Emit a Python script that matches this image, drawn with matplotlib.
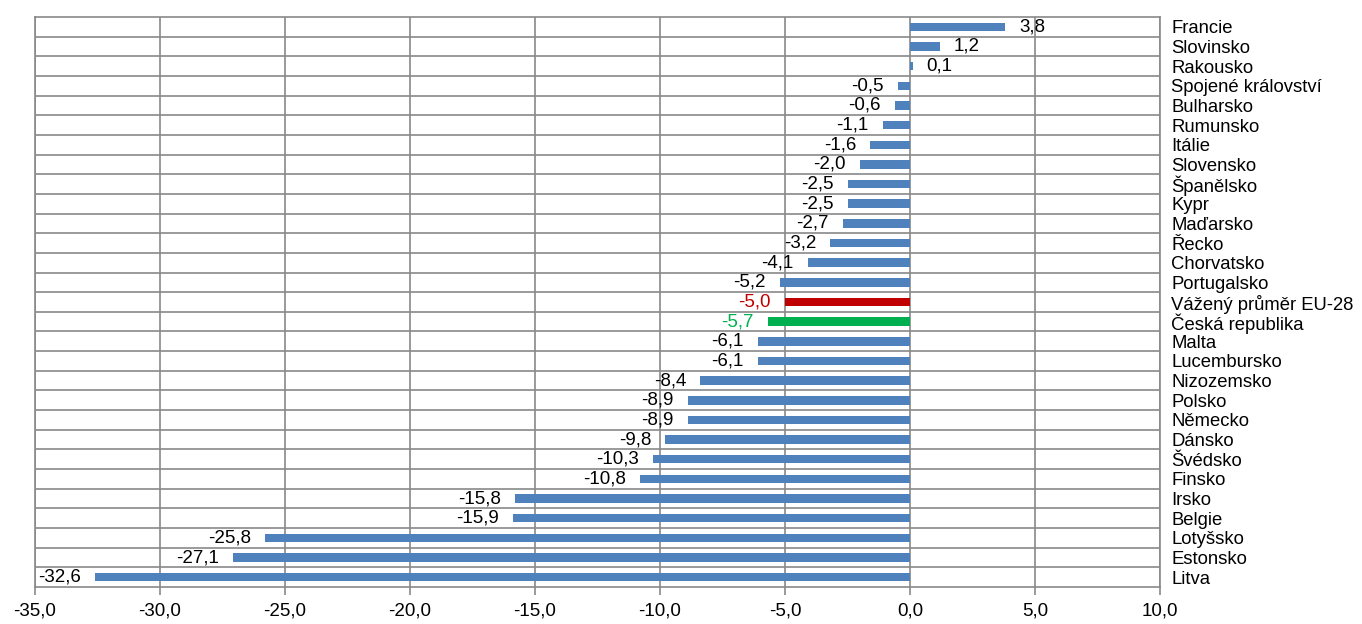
import numpy as np
import matplotlib
matplotlib.use("Agg")
from matplotlib import pyplot as plt

plt.rcParams['font.family'] = ['Liberation Sans', 'DejaVu Sans']

countries = ["Francie", "Slovinsko", "Rakousko", "Spojené království", "Bulharsko",
             "Rumunsko", "Itálie", "Slovensko", "Španělsko", "Kypr", "Maďarsko",
             "Řecko", "Chorvatsko", "Portugalsko", "Vážený průměr EU-28",
             "Česká republika", "Malta", "Lucembursko", "Nizozemsko", "Polsko",
             "Německo", "Dánsko", "Švédsko", "Finsko", "Irsko", "Belgie",
             "Lotyšsko", "Estonsko", "Litva"]
values = [3.8, 1.2, 0.1, -0.5, -0.6, -1.1, -1.6, -2.0, -2.5, -2.5, -2.7, -3.2,
          -4.1, -5.2, -5.0, -5.7, -6.1, -6.1, -8.4, -8.9, -8.9, -9.8, -10.3,
          -10.8, -15.8, -15.9, -25.8, -27.1, -32.6]
xticks = [-35, -30, -25, -20, -15, -10, -5, 0, 5, 10]

blue = "#4F81BD"
special = {"Vážený průměr EU-28": "#C00000", "Česká republika": "#00B050"}
grid = "#898989"

colors = [special.get(c, blue) for c in countries]
txtcol = [special.get(c, "black") for c in countries]

fig = plt.figure(figsize=(13.62, 6.24), dpi=100)
ax = fig.add_axes([35/1362, 1-587/624, (1160-35)/1362, (587-17)/624])

y = np.arange(len(countries))
ax.barh(y, values, height=0.43, color=colors, zorder=3)

ax.set_xlim(-35, 10)
ax.set_ylim(len(countries)-0.5, -0.5)
ax.set_xticks(xticks)
for t in xticks:
    ax.axvline(t, color=grid, lw=1.2, zorder=1)
for i in range(len(countries)-1):
    ax.axhline(i+0.5, color=grid, lw=1.2, zorder=1)
ax.set_xticklabels([("%.1f" % t).replace(".", ",") for t in xticks], fontsize=13.5)

ax.yaxis.tick_right()
ax.set_yticks(y)
ax.set_yticklabels(countries, fontsize=13.3)
ax.tick_params(axis='y', length=0, pad=8)
ax.tick_params(axis='x', length=6, width=1.2, color=grid, pad=5)
for s in ax.spines.values():
    s.set_color(grid)
    s.set_linewidth(1.2)

for i, v in enumerate(values):
    lab = ("%.1f" % v).replace(".", ",")
    if v >= 0:
        ax.annotate(lab, (v, i), xytext=(10, 0), textcoords="offset points",
                    ha="left", va="center", fontsize=13.5, color=txtcol[i], zorder=4)
    else:
        ax.annotate(lab, (v, i), xytext=(-10, 0), textcoords="offset points",
                    ha="right", va="center", fontsize=13.5, color=txtcol[i], zorder=4)

fig.savefig("out.png", dpi=100)
